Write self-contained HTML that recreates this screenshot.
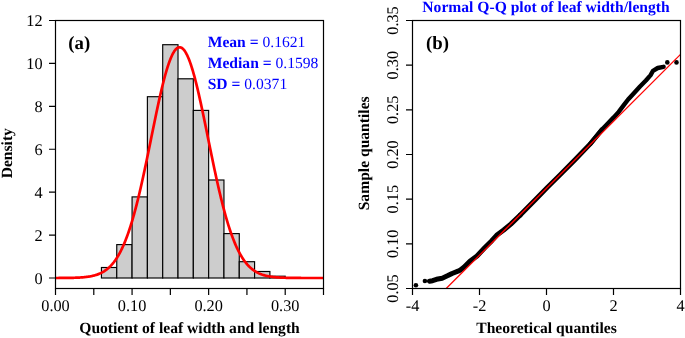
<!DOCTYPE html>
<html><head><meta charset="utf-8"><style>
html,body{margin:0;padding:0;background:#fff;width:685px;height:338px;overflow:hidden}
svg{display:block;will-change:transform}
text{font-family:"Liberation Serif", serif;font-size:16.3px;fill:#000;text-rendering:geometricPrecision}
.tb{font-size:15.6px}
.t{font-weight:normal}
.tb{font-weight:bold}
.bl{fill:#0000ff;font-size:15.6px}
.bl .t{fill:#0000ff}
.lab{font-size:18.8px}
</style></head><body>
<svg width="685" height="338" viewBox="0 0 685 338">
<rect width="685" height="338" fill="#fff"/>
<g fill="#cdcdcd" stroke="#000" stroke-width="1.15"><rect x="101.44" y="267.50" width="15.31" height="10.50"/><rect x="116.76" y="244.60" width="15.31" height="33.40"/><rect x="132.07" y="196.90" width="15.31" height="81.10"/><rect x="147.39" y="96.70" width="15.31" height="181.30"/><rect x="162.70" y="44.70" width="15.31" height="233.30"/><rect x="178.01" y="78.80" width="15.31" height="199.20"/><rect x="193.33" y="110.40" width="15.31" height="167.60"/><rect x="208.64" y="180.00" width="15.31" height="98.00"/><rect x="223.96" y="233.60" width="15.31" height="44.40"/><rect x="239.27" y="261.70" width="15.31" height="16.30"/><rect x="254.59" y="271.50" width="15.31" height="6.50"/><rect x="269.90" y="276.20" width="15.31" height="1.80"/></g>
<polyline points="55.50,277.98 56.17,277.98 56.84,277.98 57.51,277.98 58.18,277.98 58.85,277.97 59.52,277.97 60.19,277.97 60.86,277.96 61.53,277.96 62.20,277.96 62.87,277.95 63.54,277.95 64.21,277.94 64.88,277.93 65.55,277.93 66.22,277.92 66.89,277.91 67.56,277.90 68.23,277.89 68.90,277.88 69.57,277.87 70.24,277.86 70.91,277.85 71.58,277.83 72.25,277.82 72.92,277.80 73.59,277.78 74.26,277.76 74.93,277.74 75.60,277.72 76.27,277.69 76.94,277.66 77.61,277.63 78.28,277.60 78.95,277.57 79.62,277.53 80.29,277.49 80.96,277.45 81.63,277.40 82.30,277.35 82.97,277.29 83.64,277.23 84.31,277.17 84.98,277.10 85.65,277.03 86.32,276.95 86.99,276.87 87.66,276.78 88.33,276.68 89.00,276.58 89.67,276.47 90.34,276.35 91.01,276.22 91.68,276.09 92.35,275.94 93.02,275.79 93.69,275.62 94.36,275.45 95.03,275.26 95.70,275.06 96.37,274.85 97.04,274.63 97.71,274.39 98.38,274.13 99.05,273.87 99.72,273.58 100.39,273.28 101.06,272.96 101.73,272.62 102.40,272.26 103.07,271.89 103.74,271.49 104.41,271.07 105.08,270.62 105.75,270.15 106.42,269.66 107.09,269.14 107.76,268.59 108.43,268.01 109.10,267.41 109.77,266.77 110.44,266.11 111.11,265.41 111.78,264.67 112.45,263.91 113.12,263.10 113.79,262.26 114.46,261.38 115.13,260.46 115.80,259.50 116.47,258.50 117.14,257.46 117.81,256.37 118.48,255.24 119.15,254.06 119.82,252.83 120.49,251.56 121.16,250.24 121.83,248.86 122.50,247.44 123.17,245.96 123.84,244.44 124.51,242.86 125.18,241.22 125.85,239.53 126.52,237.79 127.19,235.98 127.86,234.13 128.53,232.21 129.20,230.24 129.87,228.22 130.54,226.13 131.21,223.99 131.88,221.79 132.55,219.53 133.22,217.22 133.89,214.85 134.56,212.42 135.23,209.94 135.90,207.41 136.57,204.82 137.24,202.18 137.91,199.48 138.58,196.74 139.25,193.95 139.92,191.10 140.59,188.22 141.26,185.29 141.93,182.31 142.60,179.30 143.27,176.25 143.94,173.16 144.61,170.03 145.28,166.88 145.95,163.70 146.62,160.49 147.29,157.26 147.96,154.01 148.63,150.74 149.30,147.46 149.97,144.17 150.64,140.88 151.31,137.57 151.98,134.27 152.65,130.98 153.32,127.69 153.99,124.42 154.66,121.16 155.33,117.92 156.00,114.70 156.67,111.51 157.34,108.36 158.01,105.24 158.68,102.16 159.35,99.12 160.02,96.14 160.69,93.21 161.36,90.33 162.03,87.52 162.70,84.77 163.37,82.09 164.04,79.48 164.71,76.95 165.38,74.51 166.05,72.14 166.72,69.87 167.39,67.68 168.06,65.60 168.73,63.61 169.40,61.72 170.07,59.94 170.74,58.26 171.41,56.70 172.08,55.25 172.75,53.91 173.42,52.69 174.09,51.59 174.76,50.61 175.43,49.75 176.10,49.02 176.77,48.42 177.44,47.93 178.11,47.58 178.78,47.36 179.45,47.26 180.12,47.29 180.79,47.45 181.46,47.74 182.13,48.15 182.80,48.69 183.47,49.36 184.14,50.15 184.81,51.07 185.48,52.11 186.15,53.27 186.82,54.54 187.49,55.94 188.16,57.44 188.83,59.06 189.50,60.79 190.17,62.62 190.84,64.56 191.51,66.60 192.18,68.73 192.85,70.96 193.52,73.28 194.19,75.68 194.86,78.17 195.53,80.74 196.20,83.38 196.87,86.09 197.54,88.88 198.21,91.72 198.88,94.62 199.55,97.58 200.22,100.59 200.89,103.65 201.56,106.75 202.23,109.89 202.90,113.06 203.57,116.26 204.24,119.49 204.91,122.74 205.58,126.01 206.25,129.29 206.92,132.58 207.59,135.88 208.26,139.18 208.93,142.48 209.60,145.77 210.27,149.06 210.94,152.33 211.61,155.59 212.28,158.83 212.95,162.05 213.62,165.25 214.29,168.42 214.96,171.56 215.63,174.66 216.30,177.73 216.97,180.77 217.64,183.76 218.31,186.72 218.98,189.63 219.65,192.49 220.32,195.31 220.99,198.08 221.66,200.80 222.33,203.47 223.00,206.08 223.67,208.65 224.34,211.15 225.01,213.61 225.68,216.01 226.35,218.35 227.02,220.64 227.69,222.86 228.36,225.04 229.03,227.15 229.70,229.21 230.37,231.21 231.04,233.15 231.71,235.04 232.38,236.87 233.05,238.64 233.72,240.36 234.39,242.02 235.06,243.63 235.73,245.19 236.40,246.69 237.07,248.14 237.74,249.54 238.41,250.88 239.08,252.18 239.75,253.43 240.42,254.64 241.09,255.79 241.76,256.90 242.43,257.97 243.10,258.99 243.77,259.97 244.44,260.91 245.11,261.81 245.78,262.67 246.45,263.50 247.12,264.28 247.79,265.03 248.46,265.75 249.13,266.44 249.80,267.09 250.47,267.71 251.14,268.30 251.81,268.86 252.48,269.39 253.15,269.90 253.82,270.38 254.49,270.84 255.16,271.27 255.83,271.68 256.50,272.07 257.17,272.44 257.84,272.79 258.51,273.12 259.18,273.43 259.85,273.72 260.52,274.00 261.19,274.26 261.86,274.51 262.53,274.74 263.20,274.96 263.87,275.16 264.54,275.35 265.21,275.53 265.88,275.70 266.55,275.86 267.22,276.01 267.89,276.15 268.56,276.28 269.23,276.41 269.90,276.52 270.57,276.63 271.24,276.73 271.91,276.82 272.58,276.91 273.25,276.99 273.92,277.07 274.59,277.14 275.26,277.20 275.93,277.26 276.60,277.32 277.27,277.37 277.94,277.42 278.61,277.47 279.28,277.51 279.95,277.55 280.62,277.58 281.29,277.62 281.96,277.65 282.63,277.68 283.30,277.70 283.97,277.73 284.64,277.75 285.31,277.77 285.98,277.79 286.65,277.81 287.32,277.83 287.99,277.84 288.66,277.85 289.33,277.87 290.00,277.88 290.67,277.89 291.34,277.90 292.01,277.91 292.68,277.92 293.35,277.92 294.02,277.93 294.69,277.94 295.36,277.94 296.03,277.95 296.70,277.95 297.37,277.96 298.04,277.96 298.71,277.96 299.38,277.97 300.05,277.97 300.72,277.97 301.39,277.98 302.06,277.98 302.73,277.98 303.40,277.98 304.07,277.98 304.74,277.99 305.41,277.99 306.08,277.99 306.75,277.99 307.42,277.99 308.09,277.99 308.76,277.99 309.43,277.99 310.10,277.99 310.77,277.99 311.44,278.00 312.11,278.00 312.78,278.00 313.45,278.00 314.12,278.00 314.79,278.00 315.46,278.00 316.13,278.00 316.80,278.00 317.47,278.00 318.14,278.00 318.81,278.00 319.48,278.00 320.15,278.00 320.82,278.00 321.49,278.00 322.16,278.00 322.83,278.00 323.50,278.00" fill="none" stroke="#ff0000" stroke-width="2.7" stroke-linejoin="round"/>
<rect x="55.5" y="20.5" width="268.0" height="268.0" fill="none" stroke="#000" stroke-width="1.2"/>
<path d="M49.0,278.00H55.5M49.0,235.08H55.5M49.0,192.17H55.5M49.0,149.25H55.5M49.0,106.33H55.5M49.0,63.42H55.5M49.0,20.50H55.5M55.50,288.5V295.0M93.79,288.5V295.0M132.07,288.5V295.0M170.36,288.5V295.0M208.64,288.5V295.0M246.93,288.5V295.0M285.21,288.5V295.0M323.50,288.5V295.0" stroke="#000" stroke-width="1.2" fill="none"/>
<text x="42.6" y="283.50" text-anchor="end" class="t">0</text>
<text x="42.6" y="240.58" text-anchor="end" class="t">2</text>
<text x="42.6" y="197.67" text-anchor="end" class="t">4</text>
<text x="42.6" y="154.75" text-anchor="end" class="t">6</text>
<text x="42.6" y="111.83" text-anchor="end" class="t">8</text>
<text x="42.6" y="68.92" text-anchor="end" class="t">10</text>
<text x="42.6" y="26.00" text-anchor="end" class="t">12</text>
<text x="55.50" y="311.1" text-anchor="middle" class="t">0.00</text>
<text x="132.07" y="311.1" text-anchor="middle" class="t">0.10</text>
<text x="208.64" y="311.1" text-anchor="middle" class="t">0.20</text>
<text x="285.21" y="311.1" text-anchor="middle" class="t">0.30</text>
<text x="189.50" y="333.1" text-anchor="middle" class="tb">Quotient of leaf width and length</text>
<text transform="translate(11.9,153.2) rotate(-90)" text-anchor="middle" class="tb">Density</text>
<text x="68.3" y="48.9" class="tb lab">(a)</text>
<text x="207.7" y="46.5" class="tb bl">Mean = <tspan class="t">0.1621</tspan></text>
<text x="207.7" y="68.0" class="tb bl">Median = <tspan class="t">0.1598</tspan></text>
<text x="207.7" y="89.2" class="tb bl">SD = <tspan class="t">0.0371</tspan></text>
<polyline points="429.4,281.2 432.6,280.7 436.5,279.3 442.2,278.2 447.9,275.6 452.1,273.5 458,271.2 460.4,270 463.9,267.2 469.9,261.3 477,256 484.7,247.8 491.8,240.7 496.6,235.3 503.7,230 510.8,224.1 520,215.3" fill="none" stroke="#000" stroke-width="5.0" stroke-linecap="round" stroke-linejoin="round"/>
<polyline points="520,215.3 535.8,199.3 547.6,187.1 560,174.9 575,159.7 590,144.2 601.8,129.8" fill="none" stroke="#000" stroke-width="4.8" stroke-linecap="round" stroke-linejoin="round"/>
<polyline points="590,144.2 601.8,129.8 607.8,123.5 613.7,117.4 618.7,111.9 623.4,105.7 628.1,99.5 634.1,92.9 640,86.5 645.9,80.5 650.6,75.1 653,70.8 657.7,68 663.6,66.8" fill="none" stroke="#000" stroke-width="4.4" stroke-linecap="round" stroke-linejoin="round"/>
<g fill="#000"><circle cx="415.9" cy="285.3" r="2.3"/><circle cx="424.9" cy="281.0" r="2.3"/><circle cx="667.3" cy="62.4" r="2.3"/><circle cx="676.5" cy="62.4" r="2.3"/></g>
<line x1="446.2" y1="288.5" x2="680.5" y2="54.4" stroke="#ff0000" stroke-width="1.3"/>
<rect x="412.5" y="20.5" width="268.0" height="268.0" fill="none" stroke="#000" stroke-width="1.2"/>
<path d="M406.0,288.50H412.5M406.0,243.83H412.5M406.0,199.17H412.5M406.0,154.50H412.5M406.0,109.83H412.5M406.0,65.17H412.5M406.0,20.50H412.5M412.50,288.5V295.0M479.50,288.5V295.0M546.50,288.5V295.0M613.50,288.5V295.0M680.50,288.5V295.0" stroke="#000" stroke-width="1.2" fill="none"/>
<text transform="translate(398.2,288.50) rotate(-90)" text-anchor="middle" class="t">0.05</text>
<text transform="translate(398.2,243.83) rotate(-90)" text-anchor="middle" class="t">0.10</text>
<text transform="translate(398.2,199.17) rotate(-90)" text-anchor="middle" class="t">0.15</text>
<text transform="translate(398.2,154.50) rotate(-90)" text-anchor="middle" class="t">0.20</text>
<text transform="translate(398.2,109.83) rotate(-90)" text-anchor="middle" class="t">0.25</text>
<text transform="translate(398.2,65.17) rotate(-90)" text-anchor="middle" class="t">0.30</text>
<text transform="translate(398.2,20.50) rotate(-90)" text-anchor="middle" class="t">0.35</text>
<text x="412.50" y="311.1" text-anchor="middle" class="t">-4</text>
<text x="479.50" y="311.1" text-anchor="middle" class="t">-2</text>
<text x="546.50" y="311.1" text-anchor="middle" class="t">0</text>
<text x="613.50" y="311.1" text-anchor="middle" class="t">2</text>
<text x="680.50" y="311.1" text-anchor="middle" class="t">4</text>
<text x="546.50" y="333.1" text-anchor="middle" class="tb">Theoretical quantiles</text>
<text transform="translate(369.2,153.35) rotate(-90)" text-anchor="middle" class="tb">Sample quantiles</text>
<text x="426.0" y="48.9" class="tb lab">(b)</text>
<text x="546" y="11.8" text-anchor="middle" class="tb bl">Normal Q-Q plot of leaf width/length</text>
</svg>
</body></html>
